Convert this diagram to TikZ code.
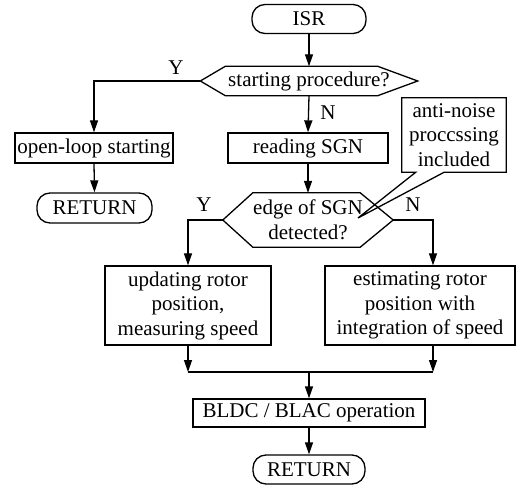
\documentclass[tikz,border=0pt]{standalone}
\usepackage{fontspec}
\setmainfont{Liberation Serif}
\usetikzlibrary{arrows.meta}
\begin{document}
\begin{tikzpicture}[x=1pt,y=-1pt,
  every node/.style={font=\fontsize{21}{24.5}\selectfont, inner sep=0pt, align=center},
  box/.style={draw, line width=1.3pt, minimum width=#1},
  term/.style={draw, line width=1.3pt, rounded corners=13pt, minimum width=#1, minimum height=29pt},
  hexa/.style={minimum width=#1},
  conn/.style={line width=1.3pt},
  arr/.style={line width=1.3pt, -{Triangle[length=12pt,width=8pt]}},
  lbl/.style={font=\fontsize{21}{24}\selectfont}
]
\useasboundingbox (0,0) rectangle (519,486);

\node[term=114] (isr) at (309,19) {ISR};
\node[hexa=217, minimum height=29pt] (d1) at (309,81) {starting procedure?};
\draw[conn] (d1.west) -- ([xshift=25]d1.north west) -- ([xshift=-40]d1.north east) -- (d1.east)
  -- ([xshift=-40]d1.south east) -- ([xshift=25]d1.south west) -- cycle;

\node[box=158, minimum height=30pt] (open) at (94,148) {open-loop starting};
\node[term=115, minimum height=30pt] (ret1) at (94.5,208) {RETURN};
\node[box=160, minimum height=30pt] (read) at (308,148) {reading SGN};

\node[hexa=170, minimum height=54pt] (d2) at (308,220) {edge of SGN\\detected?};
\draw[conn] (d2.west) -- ([xshift=30]d2.north west) -- ([xshift=-33]d2.north east) -- (d2.east)
  -- ([xshift=-33]d2.south east) -- ([xshift=30]d2.south west) -- cycle;

\node[minimum width=104pt, minimum height=74pt] (note) at (454,135) {anti-noise\\proccssing\\included};
\coordinate (tip) at (358,218);
\draw[conn, line join=miter] ([xshift=14]note.south west) -- (note.south west) -- (note.north west) -- (note.north east)
  -- (note.south east) -- ([xshift=-62]note.south east) -- (tip) -- cycle;

\node[box=166, minimum height=79pt] (upd) at (188,305.5) {updating rotor\\position,\\measuring speed};
\node[box=190, minimum height=79pt] (est) at (420,305.5) {estimating rotor\\position with\\integration of speed};

\node[box=232, minimum height=28pt] (bldc) at (309,413) {BLDC / BLAC operation};
\node[term=112, minimum height=29pt] (ret2) at (309,469.5) {RETURN};

\coordinate (ml) at (188,372);
\coordinate (mr) at (433,372);
\coordinate (mc) at (309,372);

\draw[arr] (isr.south) -- (d1.north);
\draw[arr] (d1.west) -| (open.north);
\node[lbl] at (176,68) {Y};
\draw[arr] (d1.south) -- (read.north);
\node[lbl] at (328,113) {N};
\draw[arr] (open.south) -- (ret1.north);
\draw[arr] (read.south) -- (d2.north);
\draw[arr] (d2.west) -| (upd.north);
\node[lbl] at (204,205) {Y};
\draw[arr] (d2.east) -| ([xshift=13]est.north);
\node[lbl] at (413,205) {N};
\draw[arr] (upd.south) -- (ml);
\draw[arr] ([xshift=13]est.south) -- (mr);
\draw[conn] (ml) -- (mr);
\draw[arr] (mc) -- (bldc.north);
\draw[arr] (bldc.south) -- (ret2.north);
\end{tikzpicture}
\end{document}
